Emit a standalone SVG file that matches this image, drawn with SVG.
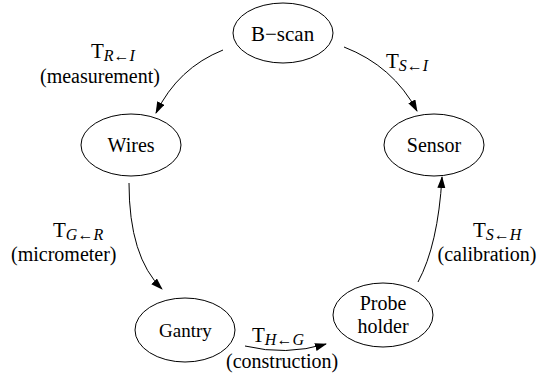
<svg xmlns="http://www.w3.org/2000/svg" width="544" height="378" viewBox="0 0 544 378">
<defs>
<marker id="ah" markerWidth="12" markerHeight="10" refX="11" refY="4" orient="auto" markerUnits="userSpaceOnUse">
<path d="M0,0 L12,4 L0,8 Z" fill="#000"/>
</marker>
</defs>
<rect width="544" height="378" fill="#fff"/>
<g id="connectors" fill="none" stroke="#000" stroke-width="1" marker-end="url(#ah)">
<path d="M223,50 Q178,68 156,113"/>
<path d="M344,47 Q393,66 417,111"/>
<path d="M129,183 Q129,257 162,289"/>
<path d="M245,346 Q286,356 326,344"/>
<path d="M418,282 Q438,245 442,177"/>
</g>
<g id="bscan"><ellipse cx="283" cy="33" rx="50" ry="30" fill="none" stroke="#000"/><text font-family="Liberation Serif" font-size="21" x="251" y="41">B<tspan>−scan</tspan></text></g>
<g id="wires"><ellipse cx="131" cy="145" rx="50" ry="31" fill="none" stroke="#000"/><text font-family="Liberation Serif" font-size="20" x="107.6" y="152">W<tspan>ires</tspan></text></g>
<g id="sensor"><ellipse cx="434" cy="145" rx="50" ry="31" fill="none" stroke="#000"/><text font-family="Liberation Serif" font-size="20" x="406.8" y="152">S<tspan>ensor</tspan></text></g>
<g id="gantry"><ellipse cx="185" cy="330" rx="50" ry="32" fill="none" stroke="#000"/><text font-family="Liberation Serif" font-size="19" x="159" y="337">G<tspan>antry</tspan></text></g>
<g id="probe"><ellipse cx="383" cy="315" rx="50" ry="32" fill="none" stroke="#000"/><text font-family="Liberation Serif" font-size="20" x="359.7" y="310">P<tspan>robe</tspan></text><text font-family="Liberation Serif" font-size="20" x="357.5" y="333">h<tspan>older</tspan></text></g>
<g id="labels">
<text font-family="Liberation Serif" font-size="21" x="91" y="58">T<tspan font-style="italic" font-size="16" dy="3">R←I</tspan></text>
<text font-family="Liberation Serif" font-size="20" x="40" y="83">(<tspan>measurement)</tspan></text>
<text font-family="Liberation Serif" font-size="21" x="386" y="68">T<tspan font-style="italic" font-size="16" dy="3">S←I</tspan></text>
<text font-family="Liberation Serif" font-size="21" x="53" y="237">T<tspan font-style="italic" font-size="16" dy="3">G←R</tspan></text>
<text font-family="Liberation Serif" font-size="20" x="11" y="261">(<tspan>micrometer)</tspan></text>
<text font-family="Liberation Serif" font-size="21" x="473" y="237">T<tspan font-style="italic" font-size="16" dy="3">S←H</tspan></text>
<text font-family="Liberation Serif" font-size="20" x="437.5" y="261">(<tspan>calibration)</tspan></text>
<text font-family="Liberation Serif" font-size="21" x="252" y="342">T<tspan font-style="italic" font-size="16" dy="3">H←G</tspan></text>
<text font-family="Liberation Serif" font-size="20" x="226" y="368">(<tspan>construction)</tspan></text>
</g>
</svg>
